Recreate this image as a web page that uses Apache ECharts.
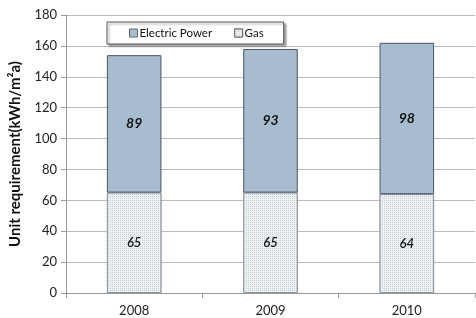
<!DOCTYPE html>
<html>
<head>
    <meta charset="utf-8">
    <title>ECharts</title>
    <script src="https://cdn.jsdelivr.net/npm/echarts@6/dist/echarts.min.js"></script>
</head>
<body style="margin:0">
    <div id="main" style="width: 476px;height:318px;"></div>
    <script type="text/javascript">
        var years = ['2008', '2009', '2010'];
        var gas = [65, 65, 64];
        var electric = [89, 93, 98];

        var myChart = echarts.init(document.getElementById('main'));

        var option = {
            backgroundColor: '#fff',
            textStyle: { fontFamily: 'Lato' },
            animation: false,
            grid: { left: 64, right: 1, top: 15, bottom: 25 },
            legend: {
                left: 107, top: 22,
                padding: [5, 20, 5, 22],
                itemGap: 22,
                itemWidth: 8, itemHeight: 8,
                icon: 'rect',
                borderColor: '#555', borderWidth: 1,
                backgroundColor: '#fff',
                shadowColor: 'rgba(0,0,0,0.35)', shadowBlur: 2, shadowOffsetX: 2, shadowOffsetY: 2,
                itemStyle: { borderColor: '#666', borderWidth: 1 },
                textStyle: { fontSize: 11.5, color: '#111', padding: [0, 0, 0, -3] },
                data: ['Electric Power', 'Gas']
            },
            xAxis: {
                type: 'category',
                data: years,
                axisLine: { lineStyle: { color: '#999' } },
                axisTick: { show: true, length: 5, lineStyle: { color: '#999' } },
                axisLabel: { color: '#222', fontSize: 13, margin: 11 }
            },
            yAxis: {
                type: 'value',
                min: 0, max: 180, interval: 20,
                name: 'Unit requirement(kWh/m²a)',
                nameLocation: 'middle',
                nameGap: 43,
                nameTextStyle: { fontSize: 15, fontWeight: 'bold', color: '#111' },
                axisLine: { show: true, lineStyle: { color: '#999' } },
                axisTick: { show: true, length: 5, lineStyle: { color: '#999' } },
                axisLabel: { color: '#222', fontSize: 13, margin: 9 },
                splitLine: { lineStyle: { color: '#bbb' } }
            },
            series: [{
                name: 'Gas',
                type: 'bar',
                stack: 'total',
                barWidth: '40%',
                data: gas,
                itemStyle: {
                    color: '#e6eaee',
                    borderColor: '#8f959c', borderWidth: 1,
                    decal: {
                        symbol: 'rect', symbolSize: 1,
                        dashArrayX: [1, 1], dashArrayY: [1, 1],
                        color: 'rgba(170,180,190,0.55)', backgroundColor: '#eef1f4'
                    }
                },
                label: {
                    show: true, position: 'inside',
                    fontStyle: 'italic', fontWeight: 600, fontSize: 13, color: '#111'
                }
            }, {
                name: 'Electric Power',
                type: 'bar',
                stack: 'total',
                data: electric,
                itemStyle: { color: '#a7bdcf', borderColor: '#4a5563', borderWidth: 1 },
                label: {
                    show: true, position: 'inside',
                    fontStyle: 'italic', fontWeight: 'bold', fontSize: 14, color: '#111'
                }
            }]
        };

        myChart.setOption(option);
    </script>
</body>
</html>
